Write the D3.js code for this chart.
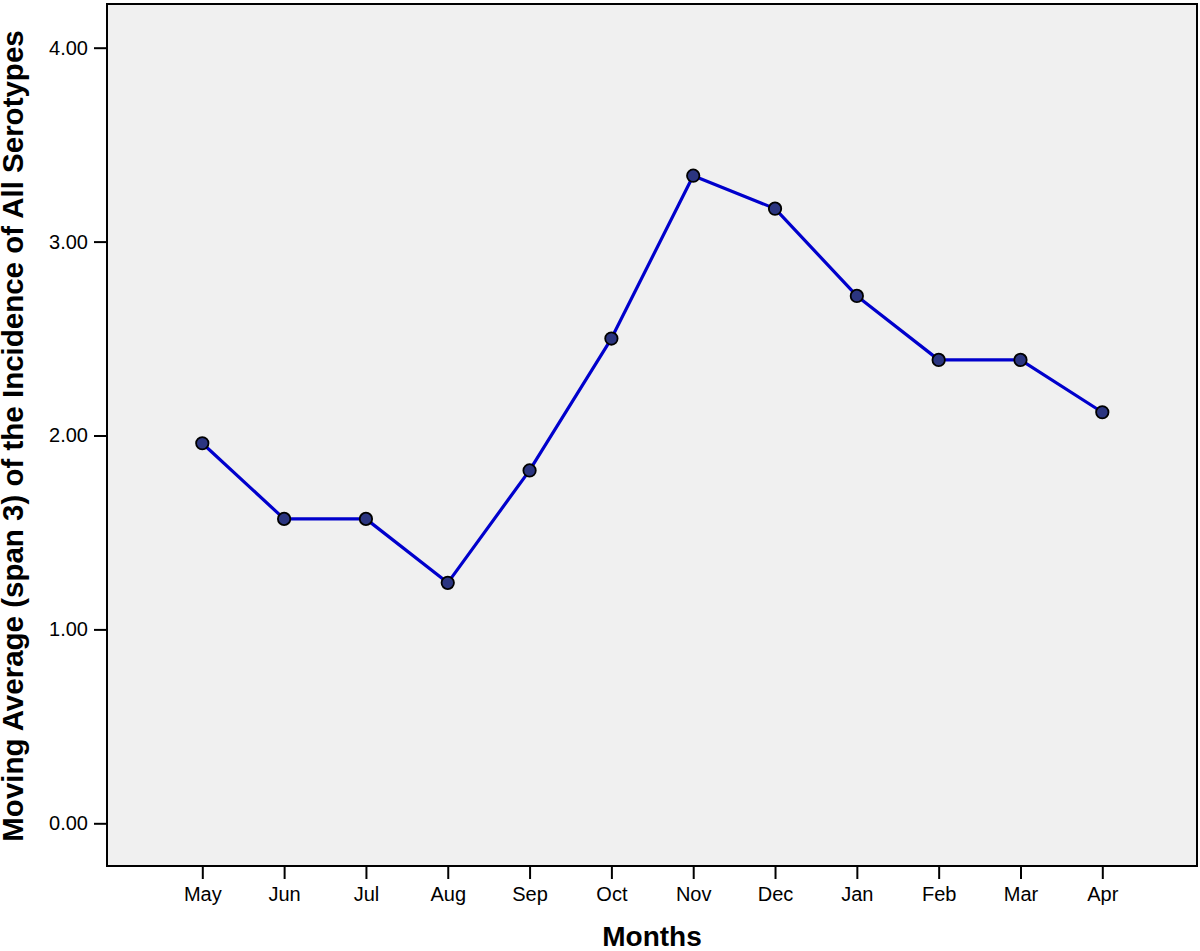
<!DOCTYPE html>
<html><head><meta charset="utf-8">
<script src="https://cdn.jsdelivr.net/npm/d3@7"></script>
<style>body{margin:0;background:#fff;} text{font-family:"Liberation Sans",Arial,sans-serif;}</style>
</head><body>
<svg id="c" width="1200" height="951"></svg>
<script>
const months = ["May","Jun","Jul","Aug","Sep","Oct","Nov","Dec","Jan","Feb","Mar","Apr"];
const values = [1.96,1.57,1.57,1.24,1.82,2.50,3.34,3.17,2.72,2.39,2.39,2.12];
const yTicks = [0,1,2,3,4];

const svg = d3.select("#c");
const frame = {x0:107, x1:1197, y0:4, y1:866};
const x = d3.scalePoint().domain(months).range([202.3,1102.3]);
const y = d3.scaleLinear().domain([0,4]).range([823.3,47.7]);

svg.append("rect").attr("x",frame.x0).attr("y",frame.y0)
  .attr("width",frame.x1-frame.x0).attr("height",frame.y1-frame.y0)
  .attr("fill","#f0f0f0").attr("stroke","#000").attr("stroke-width",2);

const yAxis = svg.append("g").attr("transform",`translate(${frame.x0},0)`)
  .call(d3.axisLeft(y).tickValues(yTicks).tickFormat(d3.format(".2f")).tickSize(13).tickPadding(6));
const xAxis = svg.append("g").attr("transform",`translate(0,${frame.y1})`)
  .call(d3.axisBottom(x).tickSize(13).tickPadding(8));
[yAxis,xAxis].forEach(a=>{
  a.select(".domain").remove();
  a.selectAll(".tick line").attr("stroke","#000").attr("stroke-width",2);
  a.selectAll(".tick text").attr("fill","#000").style("font-size","20px").style("font-family","'Liberation Sans',Arial,sans-serif");
});

const line = d3.line().x((d,i)=>x(months[i])).y(d=>y(d));
svg.append("path").datum(values).attr("d",line)
  .attr("fill","none").attr("stroke","#0000cc").attr("stroke-width",3.2).attr("stroke-linejoin","round");

svg.selectAll("circle.pt").data(values).enter().append("circle")
  .attr("class","pt").attr("cx",(d,i)=>x(months[i])).attr("cy",d=>y(d)).attr("r",6.2)
  .attr("fill","#2b3580").attr("stroke","#000").attr("stroke-width",1.8);

svg.append("text").attr("x",(frame.x0+frame.x1)/2 + 0).attr("y",946).attr("text-anchor","middle")
  .style("font-size","28px").style("font-weight","bold").text("Months");
svg.append("text").attr("transform",`translate(23,${(frame.y0+frame.y1)/2+1}) rotate(-90)`).attr("text-anchor","middle")
  .style("font-size","29.5px").style("font-weight","bold").text("Moving Average (span 3) of the Incidence of All Serotypes");
</script>
</body></html>
